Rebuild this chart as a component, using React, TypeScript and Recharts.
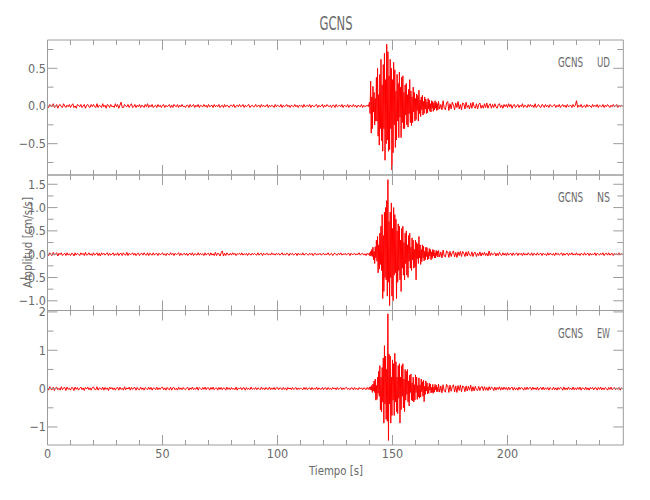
import React from 'react';
import { LineChart, Line, XAxis, YAxis } from 'recharts';

// Acceleration records (cm/s/s). Samples every 0.5 s before 140 s and after 170 s,
// every 0.25 s through the strong motion (140-170 s).

// UD component
const udPre = [
  0.01, -0.02, 0.02, 0.00, -0.01, 0.03, -0.02, -0.01, 0.02, -0.03, 0.01, 0.02, -0.01, -0.02, 0.03, 0.00, -0.02, 0.01, -0.01, 0.02,
  -0.02, 0.01, 0.03, -0.02, 0.00, -0.03, 0.02, 0.01, -0.01, 0.02, -0.02, 0.00, 0.02, -0.03, 0.01, 0.02, -0.01, -0.02, 0.02, -0.01,
  0.02, -0.01, -0.02, 0.03, -0.02, 0.01, 0.00, -0.02, 0.03, -0.01, 0.01, -0.03, 0.02, 0.01, -0.02, 0.02, -0.01, 0.00, -0.02, 0.03,
  -0.01, 0.02, -0.03, 0.01, 0.05, -0.02, -0.02, 0.02, 0.00, -0.01, 0.02, -0.02, 0.01, 0.03, -0.02, -0.01, 0.02, -0.02, 0.01, -0.01,
  0.02, -0.02, 0.01, 0.00, -0.02, 0.02, -0.01, 0.03, -0.02, 0.01, -0.01, 0.02, -0.02, 0.00, 0.01, -0.02, 0.02, -0.01, 0.01, -0.02,
  0.01, 0.02, -0.02, 0.01, -0.01, 0.00, 0.02, -0.02, 0.01, -0.02, 0.02, 0.00, -0.01, 0.02, -0.02, 0.01, -0.01, 0.02, -0.01, 0.00,
  -0.02, 0.01, 0.01, -0.02, 0.02, -0.01, 0.00, 0.02, -0.02, 0.01, -0.01, 0.02, -0.02, 0.01, 0.00, -0.01, 0.02, -0.01, 0.01, -0.02,
  0.02, -0.01, 0.00, 0.01, -0.02, 0.02, -0.01, 0.01, -0.01, 0.02, -0.02, 0.00, 0.01, -0.02, 0.02, -0.01, 0.01, 0.00, -0.02, 0.01,
  0.01, -0.01, 0.02, -0.02, 0.00, 0.01, -0.01, 0.02, -0.01, 0.00, 0.02, -0.02, 0.01, -0.01, 0.01, 0.02, -0.02, 0.00, 0.01, -0.01,
  -0.01, 0.02, -0.01, 0.00, 0.01, -0.02, 0.02, -0.01, 0.01, -0.01, 0.00, 0.02, -0.02, 0.01, -0.01, 0.01, 0.00, -0.02, 0.02, -0.01,
  0.01, 0.00, -0.01, 0.02, -0.02, 0.01, -0.01, 0.00, 0.02, -0.01, 0.01, -0.02, 0.01, 0.00, -0.01, 0.02, -0.01, 0.01, -0.02, 0.01,
  0.00, 0.01, -0.02, 0.02, -0.01, 0.00, 0.01, -0.01, 0.02, -0.02, 0.01, 0.00, -0.01, 0.01, 0.02, -0.02, 0.01, -0.01, 0.00, 0.02,
  -0.02, 0.01, -0.01, 0.02, 0.00, -0.01, 0.01, -0.02, 0.01, 0.01, -0.02, 0.02, -0.01, 0.00, 0.01, -0.01, 0.02, -0.02, 0.01, 0.00,
  -0.01, 0.02, -0.02, 0.01, 0.00, -0.01, 0.02, -0.01, 0.01, -0.02, 0.01, 0.00, -0.01, 0.02, -0.02, 0.01, -0.01, 0.00, 0.01, -0.01,
];
const udEvent = [
  0.05, -0.1, 0.33, -0.36,
  0.12, -0.3, 0.26, -0.08, 0.18, -0.25, 0.1, -0.2,
  0.38, -0.2, 0.5, -0.4, 0.15, -0.52, 0.42, -0.3, 0.62, -0.46, 0.28, -0.6,
  0.55, -0.3, 0.7, -0.72, 0.35, -0.5, 0.82, -0.45,
  0.72, -0.6, 0.4, -0.58, 0.62, -0.3, 0.5, -0.85,
  0.35, -0.62, 0.58, -0.25, 0.48, -0.55, 0.2, -0.45,
  0.42, -0.2, 0.3, -0.42, 0.45, -0.15, 0.25, -0.42, 0.38, -0.22, 0.4, -0.3,
  0.18, -0.3, 0.28, -0.12, 0.3, -0.25, 0.15, -0.28, 0.22, -0.1, 0.35, -0.22,
  0.2, -0.26, 0.12, -0.22, 0.25, -0.08, 0.18, -0.2,
  0.1, -0.18, 0.16, -0.06, 0.14, -0.2, 0.21, -0.1, 0.08, -0.14, 0.12, -0.05, 0.14, -0.12, 0.06, -0.1, 0.12, -0.04, 0.09, -0.1,
  0.05, -0.09, 0.1, -0.04, 0.08, -0.07, 0.03, -0.08, 0.07, -0.03, 0.06, -0.07, 0.04, -0.05, 0.07, -0.03, 0.05, -0.06, 0.03, -0.05,
];
const udCoda = [
  0.06, -0.04, 0.02, -0.05, 0.07, -0.03, -0.05, 0.04, 0.06, -0.06, 0.03, -0.04, 0.05, 0.01, -0.05, 0.04, -0.02, 0.06, -0.04, 0.02,
  -0.05, 0.04, 0.03, -0.04, 0.05, -0.02, 0.01, -0.04, 0.04, -0.03, 0.05, -0.01, -0.03, 0.03, -0.04, 0.02, 0.04, -0.03, 0.01, -0.03,
  0.03, -0.02, 0.04, -0.03, 0.01, 0.03, -0.03, 0.02, -0.02, 0.03, -0.01, -0.03, 0.02, 0.03, -0.02, 0.01, -0.03, 0.02, -0.01, 0.02,
  -0.02, 0.03, -0.01, 0.02, -0.03, 0.01, 0.02, -0.02, 0.00, 0.02, -0.02, 0.01, -0.01, 0.03, -0.02, 0.01, 0.00, -0.02, 0.02, -0.01,
  0.02, -0.01, 0.01, -0.02, 0.03, -0.02, 0.00, 0.02, -0.01, -0.02, 0.02, 0.01, -0.02, 0.02, -0.01, 0.01, -0.02, 0.02, 0.00, -0.01,
  0.01, 0.02, -0.02, 0.01, -0.01, 0.02, -0.02, 0.00, 0.02, -0.01, 0.01, -0.02, 0.02, -0.01, 0.00, 0.01, -0.02, 0.02, -0.01, 0.01,
  0.07, -0.02, 0.01, -0.01, 0.02, -0.02, 0.00, 0.01, -0.02, 0.02, -0.01, 0.01, 0.00, -0.02, 0.02, -0.01, 0.01, -0.01, 0.02, -0.02,
  0.01, 0.00, -0.01, 0.02, -0.02, 0.01, -0.01, 0.02, 0.00, -0.02, 0.01, -0.01, 0.02, -0.01, 0.00, 0.02, -0.02, 0.01, -0.01, 0.01,
  0.00,
];

// NS component
const nsPre = [
  0.02, -0.03, 0.03, -0.01, -0.03, 0.04, -0.02, 0.01, 0.03, -0.04, 0.02, -0.01, 0.03, -0.03, 0.00, 0.02, -0.03, 0.03, -0.02, 0.01,
  -0.03, 0.02, 0.01, -0.04, 0.03, -0.02, 0.02, 0.00, -0.03, 0.03, -0.01, 0.02, -0.03, 0.04, -0.02, -0.01, 0.03, -0.02, 0.01, -0.03,
  0.03, -0.02, 0.00, 0.03, -0.03, 0.02, -0.04, 0.03, -0.01, 0.02, -0.02, 0.01, 0.03, -0.03, 0.02, -0.02, 0.00, 0.03, -0.03, 0.01,
  -0.02, 0.03, -0.03, 0.01, 0.02, -0.03, 0.03, -0.01, -0.02, 0.04, -0.03, 0.02, -0.01, 0.00, 0.03, -0.02, 0.02, -0.03, 0.01, 0.02,
  -0.03, 0.01, 0.02, -0.02, 0.03, -0.01, -0.02, 0.03, -0.03, 0.02, 0.00, -0.02, 0.03, -0.02, 0.01, 0.02, -0.03, 0.02, -0.01, 0.00,
  0.03, -0.02, 0.01, -0.03, 0.02, 0.00, -0.02, 0.03, -0.01, 0.02, -0.03, 0.02, -0.01, 0.01, 0.03, -0.03, 0.02, -0.02, 0.00, 0.02,
  -0.02, 0.02, -0.03, 0.01, 0.02, -0.02, 0.03, -0.03, 0.01, 0.00, -0.02, 0.03, -0.02, 0.02, -0.01, 0.01, -0.03, 0.03, -0.02, 0.01,
  0.02, -0.03, 0.03, -0.02, 0.01, -0.03, 0.04, -0.03, 0.02, 0.01, -0.04, 0.03, 0.07, -0.04, 0.02, -0.03, 0.03, -0.01, -0.02, 0.02,
  -0.02, 0.03, -0.01, 0.02, -0.03, 0.01, 0.00, 0.02, -0.02, 0.03, -0.02, 0.01, -0.01, 0.02, -0.03, 0.02, 0.00, -0.02, 0.02, -0.01,
  0.02, -0.01, -0.02, 0.03, -0.02, 0.01, 0.02, -0.03, 0.02, -0.01, 0.00, 0.02, -0.02, 0.01, -0.02, 0.03, -0.01, 0.01, -0.02, 0.02,
  -0.01, 0.02, -0.02, 0.00, 0.03, -0.02, 0.01, -0.02, 0.02, 0.01, -0.03, 0.02, -0.01, 0.02, -0.02, 0.00, 0.02, -0.03, 0.02, -0.01,
  0.01, -0.02, 0.03, -0.02, 0.00, 0.02, -0.01, -0.02, 0.02, -0.01, 0.02, -0.03, 0.01, 0.02, -0.02, 0.01, -0.01, 0.02, -0.02, 0.00,
  0.02, -0.02, 0.01, -0.01, 0.03, -0.02, 0.00, 0.02, -0.03, 0.01, 0.02, -0.01, -0.02, 0.02, -0.01, 0.03, -0.02, 0.01, -0.01, 0.02,
  -0.02, 0.01, 0.02, -0.03, 0.02, -0.01, 0.00, 0.02, -0.02, 0.01, -0.01, 0.03, -0.02, 0.01, 0.02, -0.02, 0.01, -0.03, 0.02, -0.01,
];
const nsEvent = [
  0.03, -0.04, 0.06, -0.03,
  0.1, -0.05, 0.15, -0.12, 0.06, -0.2, 0.16, -0.08,
  0.3, -0.15, 0.38, -0.4, 0.2, -0.32, 0.45, -0.22,
  0.6, -0.35, 0.85, -0.95, 0.4, -0.8, 0.9, -0.5,
  1.0, -0.55, 1.15, -0.9, 1.6, -0.6, 0.7, -1.1,
  0.9, -0.5, 1.1, -0.9, 0.55, -1.0, 1.0, -0.45,
  0.85, -0.4, 0.75, -0.95, 0.5, -0.6, 0.65, -0.35, 0.6, -0.55, 0.3, -0.8,
  0.55, -0.3, 0.6, -0.45, 0.25, -0.55, 0.45, -0.2, 0.5, -0.45, 0.2, -0.5, 0.4, -0.15, 0.45, -0.3,
  0.15, -0.35, 0.35, -0.12, 0.3, -0.3, 0.1, -0.28, 0.3, -0.55, 0.25, -0.1, 0.22, -0.2, 0.38, -0.08, 0.2, -0.22, 0.1, -0.16,
  0.2, -0.08, 0.17, -0.14, 0.06, -0.12, 0.15, -0.05, 0.14, -0.12, 0.05, -0.1, 0.12, -0.04,
  0.1, -0.12, 0.05, -0.09, 0.1, -0.04, 0.09, -0.08, 0.03, -0.08, 0.08, -0.03, 0.06, -0.06,
];
const nsCoda = [
  0.08, -0.06, 0.05, -0.08, 0.09, -0.04, -0.06, 0.07, 0.05, -0.07, 0.06, -0.05, 0.03, 0.07, -0.06, 0.04, -0.07, 0.05, -0.03, 0.06,
  -0.05, 0.06, 0.02, -0.05, 0.05, -0.04, 0.06, -0.02, -0.04, 0.05, -0.05, 0.03, 0.04, -0.05, 0.02, -0.03, 0.05, -0.04, 0.03, -0.02,
  0.04, -0.03, 0.02, -0.04, 0.07, -0.03, 0.03, -0.02, 0.01, 0.03, -0.04, 0.02, -0.03, 0.04, -0.01, -0.03, 0.03, -0.02, 0.02, -0.03,
  0.03, -0.02, 0.01, 0.02, -0.03, 0.03, -0.02, 0.00, 0.03, -0.03, 0.02, -0.01, 0.02, -0.03, 0.03, -0.02, 0.01, -0.02, 0.03, -0.01,
  -0.02, 0.03, -0.03, 0.02, 0.00, -0.02, 0.03, -0.02, 0.01, 0.02, -0.03, 0.02, -0.01, 0.01, -0.03, 0.03, -0.02, 0.02, 0.00, -0.02,
  0.02, -0.03, 0.03, -0.01, 0.02, -0.02, 0.00, 0.03, -0.03, 0.02, -0.02, 0.01, 0.02, -0.03, 0.02, -0.01, 0.03, -0.02, 0.01, -0.02,
  0.03, -0.02, 0.01, -0.03, 0.02, 0.00, -0.02, 0.03, -0.02, 0.01, 0.02, -0.03, 0.02, -0.02, 0.01, -0.01, 0.03, -0.03, 0.02, 0.00,
  -0.02, 0.02, -0.01, 0.03, -0.03, 0.01, 0.02, -0.02, 0.03, -0.02, 0.00, 0.02, -0.03, 0.02, -0.01, 0.01, -0.02, 0.03, -0.02, 0.01,
  0.00,
];

// EW component
const ewPre = [
  0.03, -0.04, 0.05, -0.02, -0.03, 0.04, -0.05, 0.02, 0.04, -0.03, 0.01, -0.04, 0.05, -0.03, 0.02, 0.03, -0.05, 0.04, -0.02, 0.01,
  -0.04, 0.03, 0.02, -0.05, 0.04, -0.02, 0.03, -0.04, 0.01, 0.04, -0.03, 0.02, -0.05, 0.03, -0.01, 0.04, -0.03, 0.02, -0.04, 0.03,
  0.04, -0.02, -0.03, 0.05, -0.04, 0.02, 0.01, -0.03, 0.04, -0.04, 0.03, -0.02, 0.02, -0.05, 0.04, -0.01, 0.03, -0.03, 0.02, -0.04,
  0.02, 0.03, -0.04, 0.04, -0.02, 0.01, -0.04, 0.05, -0.03, 0.02, -0.01, 0.04, -0.04, 0.03, -0.02, 0.02, 0.03, -0.04, 0.03, -0.02,
  -0.03, 0.04, -0.02, 0.02, -0.04, 0.03, 0.00, -0.03, 0.04, -0.02, 0.03, -0.04, 0.02, 0.01, -0.03, 0.04, -0.03, 0.02, -0.02, 0.03,
  0.04, -0.03, 0.02, -0.04, 0.03, -0.01, -0.03, 0.04, -0.04, 0.02, 0.03, -0.03, 0.01, -0.04, 0.04, -0.02, 0.02, -0.03, 0.03, -0.01,
  -0.03, 0.02, 0.03, -0.04, 0.02, -0.02, 0.04, -0.03, 0.01, -0.02, 0.04, -0.04, 0.03, 0.00, -0.03, 0.03, -0.02, 0.04, -0.03, 0.02,
  0.02, -0.04, 0.03, -0.02, 0.04, -0.03, 0.01, 0.02, -0.04, 0.03, -0.02, 0.03, -0.03, 0.02, 0.01, -0.04, 0.04, -0.02, 0.02, -0.03,
  0.03, -0.02, 0.01, -0.03, 0.04, -0.04, 0.02, -0.01, 0.03, -0.03, 0.02, 0.02, -0.04, 0.03, -0.02, 0.01, -0.03, 0.04, -0.02, 0.01,
  -0.02, 0.03, -0.03, 0.02, 0.00, -0.03, 0.04, -0.02, 0.02, -0.03, 0.03, -0.01, -0.02, 0.04, -0.03, 0.02, -0.02, 0.03, -0.03, 0.02,
  0.03, -0.03, 0.02, 0.01, -0.03, 0.03, -0.02, 0.02, -0.04, 0.03, -0.01, 0.02, -0.03, 0.03, -0.02, 0.00, 0.03, -0.03, 0.02, -0.02,
  0.02, -0.01, -0.03, 0.03, -0.02, 0.03, -0.03, 0.01, 0.02, -0.03, 0.03, -0.02, 0.01, -0.02, 0.04, -0.03, 0.02, -0.01, -0.02, 0.03,
  -0.03, 0.02, 0.02, -0.03, 0.03, -0.02, 0.01, -0.03, 0.03, -0.01, 0.02, -0.03, 0.03, -0.02, 0.00, 0.03, -0.03, 0.02, -0.02, 0.02,
  0.03, -0.02, 0.01, -0.03, 0.02, 0.02, -0.03, 0.03, -0.02, 0.01, -0.03, 0.03, -0.01, 0.02, -0.03, 0.02, 0.01, -0.03, 0.03, -0.02,
];
const ewEvent = [
  0.04, -0.03, 0.05, -0.04,
  0.08, -0.1, 0.12, -0.06,
  0.2, -0.1, 0.25, -0.3, 0.08, -0.28, 0.3, -0.12,
  0.45, -0.2, 0.6, -0.55, 0.3, -0.6, 0.55, -0.35,
  0.8, -0.9, 1.12, -0.4, 0.85, -0.8, 0.5, -0.85,
  1.95, -1.35, 0.9, -0.4, 0.85, -0.9, 0.3, -0.7,
  0.75, -0.3, 0.65, -0.7, 0.92, -0.35, 0.7, -0.6,
  0.3, -0.65, 0.6, -0.25, 0.65, -0.9, 0.3, -0.55,
  0.6, -0.2, 0.65, -0.5, 0.25, -0.6, 0.5, -0.3,
  0.45, -0.15, 0.5, -0.35, 0.2, -0.45, 0.35, -0.1, 0.38, -0.3, 0.15, -0.32, 0.3, -0.35, 0.1, -0.3,
  0.36, -0.1, 0.3, -0.28, 0.08, -0.22, 0.28, -0.25, 0.1, -0.22, 0.25, -0.08, 0.18, -0.2, 0.22, -0.34, 0.06, -0.15, 0.2, -0.06,
  0.15, -0.14, 0.05, -0.12, 0.14, -0.04, 0.12, -0.11, 0.03, -0.1, 0.11, -0.12, 0.04, -0.09, 0.11, -0.03, 0.09, -0.08, 0.03, -0.08,
];
const ewCoda = [
  0.12, -0.09, 0.07, -0.11, 0.1, -0.06, -0.09, 0.11, 0.08, -0.1, 0.09, -0.07, 0.05, 0.1, -0.09, 0.07, -0.1, 0.08, -0.05, 0.09,
  -0.08, 0.07, 0.05, -0.08, 0.07, -0.06, 0.06, -0.04, 0.09, -0.07, 0.05, -0.06, 0.06, -0.03, -0.05, 0.06, -0.05, 0.04, 0.05, -0.05,
  0.05, -0.04, 0.03, -0.05, 0.05, -0.03, 0.04, 0.02, -0.05, 0.04, -0.04, 0.03, -0.02, 0.05, -0.04, 0.03, -0.03, 0.04, -0.02, 0.03,
  -0.04, 0.04, -0.03, 0.02, 0.04, -0.04, 0.03, -0.03, 0.02, -0.04, 0.04, -0.02, 0.03, 0.01, -0.04, 0.03, -0.03, 0.04, -0.02, 0.02,
  0.03, -0.04, 0.04, -0.02, 0.02, -0.03, 0.04, -0.04, 0.01, 0.03, -0.03, 0.04, -0.03, 0.02, -0.02, 0.03, -0.04, 0.03, 0.00, -0.03,
  0.04, -0.03, 0.02, -0.04, 0.03, -0.02, 0.03, 0.01, -0.04, 0.04, -0.03, 0.02, -0.03, 0.04, -0.02, 0.01, -0.03, 0.04, -0.03, 0.02,
  -0.03, 0.03, -0.02, 0.04, -0.04, 0.02, 0.01, -0.03, 0.04, -0.03, 0.02, -0.04, 0.03, -0.01, 0.03, -0.03, 0.02, 0.02, -0.04, 0.03,
  -0.02, 0.04, -0.03, 0.02, -0.03, 0.03, 0.00, -0.04, 0.03, -0.02, 0.04, -0.03, 0.01, 0.03, -0.03, 0.02, -0.02, 0.03, -0.04, 0.02,
  0.00,
];

const xTicks = [0, 10, 20, 30, 40, 50, 60, 70, 80, 90, 100, 110, 120, 130, 140, 150, 160, 170, 180, 190, 200, 210, 220, 230, 240];
const udTicks = [-0.75, -0.5, -0.25, 0, 0.25, 0.5, 0.75];
const nsTicks = [-1, -0.75, -0.5, -0.25, 0, 0.25, 0.5, 0.75, 1, 1.25, 1.5];
const ewTicks = [-1, -0.5, 0, 0.5, 1, 1.5, 2];

// attach sample times to each record
const toSeries = (pre, event, coda) => [
  ...pre.map((v, i) => ({ t: i * 0.5, v })),
  ...event.map((v, i) => ({ t: 140 + i * 0.25, v })),
  ...coda.map((v, i) => ({ t: 170 + i * 0.5, v })),
];

const FRAME = '#9c9c9c';
const TEXT = '#6a6a6a';
const FONT = "'Liberation Sans Narrow', 'DejaVu Sans Condensed', 'Liberation Sans', sans-serif";
const LEFT = 47.5;
const RIGHT = 623.3;

const panels = [
  { key: 'ud', comp: 'UD', top: 40, bottom: 175, domain: [-0.916, 0.876], ticks: udTicks, step: 0.5, digits: 1, showX: false, data: toSeries(udPre, udEvent, udCoda) },
  { key: 'ns', comp: 'NS', top: 175, bottom: 310.5, domain: [-1.208, 1.699], ticks: nsTicks, step: 0.5, digits: 1, showX: false, data: toSeries(nsPre, nsEvent, nsCoda) },
  { key: 'ew', comp: 'EW', top: 310.5, bottom: 445, domain: [-1.47, 2.037], ticks: ewTicks, step: 1, digits: 0, showX: true, data: toSeries(ewPre, ewEvent, ewCoda) },
];

const fmt = (v, digits) => (v < 0 ? '\u2212' : '') + Math.abs(v).toFixed(digits);
const isMajor = (v, step) => Math.abs(v / step - Math.round(v / step)) < 1e-6;

// ticks point inward; axis boxes are 1px so recharts still draws them
const xTick = (props, up, showLabel) => {
  const { x, y, payload } = props;
  const major = payload.value % 50 === 0;
  const len = major ? 10 : 5;
  return (
    <g>
      <line x1={x} x2={x} y1={y} y2={up ? y - len : y + len} stroke={FRAME} />
      {showLabel && major && (
        <text x={x} y={y + 12.5} textAnchor="middle" fill={TEXT} fontSize={12.5} fontFamily={FONT}>
          {payload.value}
        </text>
      )}
    </g>
  );
};

const yTick = (props, p, left) => {
  const { x, y, payload } = props;
  const major = isMajor(payload.value, p.step);
  const len = major ? 10 : 6;
  return (
    <g>
      <line x1={x} x2={left ? x + len : x - len} y1={y} y2={y} stroke={FRAME} />
      {left && major && (
        <text x={x - 1.5} y={y + 4.5} textAnchor="end" fill={TEXT} fontSize={12.5} fontFamily={FONT}>
          {fmt(payload.value, p.digits)}
        </text>
      )}
    </g>
  );
};

const Panel = ({ p }) => (
  <div style={{ position: 'absolute', left: 0, top: 0 }}>
    <LineChart
      width={650}
      height={500}
      data={p.data}
      margin={{ top: p.top - 1, bottom: 500 - p.bottom - 1, left: LEFT - 1, right: 650 - RIGHT - 1 }}
    >
      <XAxis xAxisId="b" dataKey="t" type="number" domain={[0, 250.35]} allowDataOverflow ticks={xTicks} interval={0}
        height={1} tickSize={0} tickMargin={0} tickLine={false} axisLine={{ stroke: FRAME }}
        tick={(q) => xTick(q, true, p.showX)} />
      <XAxis xAxisId="t" orientation="top" dataKey="t" type="number" domain={[0, 250.35]} allowDataOverflow ticks={xTicks} interval={0}
        height={1} tickSize={0} tickMargin={0} tickLine={false} axisLine={{ stroke: FRAME }}
        tick={(q) => xTick(q, false, false)} />
      <YAxis yAxisId="l" type="number" domain={p.domain} allowDataOverflow ticks={p.ticks} interval={0}
        width={1} tickSize={0} tickMargin={0} tickLine={false} axisLine={{ stroke: FRAME }}
        tick={(q) => yTick(q, p, true)} />
      <YAxis yAxisId="r" orientation="right" type="number" domain={p.domain} allowDataOverflow ticks={p.ticks} interval={0}
        width={1} tickSize={0} tickMargin={0} tickLine={false} axisLine={{ stroke: FRAME }}
        tick={(q) => yTick(q, p, false)} />
      <Line xAxisId="b" yAxisId="l" type="linear" dataKey="v" stroke="#ff0000" strokeWidth={1}
        dot={false} activeDot={false} isAnimationActive={false} />
    </LineChart>
  </div>
);

export default function App() {
  return (
    <div style={{ position: 'absolute', left: 0, top: 0, width: 650, height: 500, background: '#fff' }}>
      {panels.map((p) => (
        <Panel key={p.key} p={p} />
      ))}
      <svg width={650} height={500} style={{ position: 'absolute', left: 0, top: 0, pointerEvents: 'none' }}>
        <g fill={TEXT} fontFamily={FONT}>
          <text x={336} y={30} fontSize={20} textAnchor="middle" textLength={33} lengthAdjust="spacingAndGlyphs">GCNS</text>
          {panels.map((p) => (
            <g key={p.key}>
              <text x={558} y={p.top + 27} fontSize={14.5} textLength={25} lengthAdjust="spacingAndGlyphs">GCNS</text>
              <text x={597} y={p.top + 27} fontSize={14.5} textLength={13} lengthAdjust="spacingAndGlyphs">{p.comp}</text>
            </g>
          ))}
          <text x={336} y={475} fontSize={13} textAnchor="middle" textLength={54} lengthAdjust="spacingAndGlyphs">Tiempo [s]</text>
          <text x={31.5} y={242.5} fontSize={13} textAnchor="middle" textLength={91} lengthAdjust="spacingAndGlyphs"
            transform="rotate(-90 31.5 242.5)">Amplitud [cm/s/s]</text>
        </g>
      </svg>
    </div>
  );
}
